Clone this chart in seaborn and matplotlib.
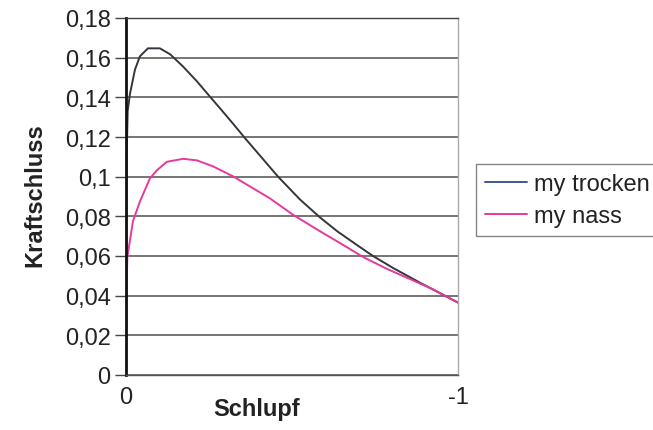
import numpy as np
import pandas as pd
import matplotlib
matplotlib.use("Agg")
import matplotlib.pyplot as plt
from matplotlib.lines import Line2D
import seaborn as sns

# ---- data ----
x_trocken = [0, -0.002, -0.005, -0.012, -0.027, -0.042, -0.066, -0.102, -0.133,
             -0.172, -0.214, -0.247, -0.283, -0.322, -0.358, -0.398, -0.458,
             -0.524, -0.584, -0.636, -0.696, -0.744, -0.804, -0.886, -1.0]
y_trocken = [0, 0.11, 0.133, 0.1418, 0.154, 0.1607, 0.1647, 0.1647, 0.1617,
             0.1555, 0.148, 0.1415, 0.1345, 0.1268, 0.1195, 0.1117, 0.100,
             0.0885, 0.0795, 0.0725, 0.0655, 0.060, 0.054, 0.0465, 0.0365]

x_nass = [0, -0.001, -0.004, -0.021, -0.042, -0.072, -0.093, -0.123, -0.172,
          -0.214, -0.262, -0.322, -0.383, -0.434, -0.503, -0.584, -0.645,
          -0.714, -0.786, -0.855, -0.925, -1.0]
y_nass = [0, 0.038, 0.0593, 0.0776, 0.0875, 0.0991, 0.1032, 0.1075, 0.1090,
          0.1082, 0.1052, 0.1002, 0.0941, 0.089, 0.0808, 0.0725, 0.0665,
          0.0595, 0.0535, 0.0484, 0.0432, 0.0365]

series_names = ["my trocken", "my nass"]
y_ticks = [0, 0.02, 0.04, 0.06, 0.08, 0.10, 0.12, 0.14, 0.16, 0.18]
x_ticks = [0, -1]
x_tick_labels = ["0", "-1"]

df = pd.concat([
    pd.DataFrame({"Schlupf": x_trocken, "Kraftschluss": y_trocken, "Reihe": series_names[0]}),
    pd.DataFrame({"Schlupf": x_nass, "Kraftschluss": y_nass, "Reihe": series_names[1]}),
], ignore_index=True)

sns.set_style("white")
plt.rcParams["font.family"] = ["Liberation Sans", "DejaVu Sans"]

W, H = 653, 431
fig = plt.figure(figsize=(W / 100, H / 100), dpi=100)
L, R, T, B = 126, 458, 19, 376
ax = fig.add_axes([L / W, 1 - B / H, (R - L) / W, (B - T) / H])

line_colors = ["#34363c", "#e6399b"]
sns.lineplot(data=df, x="Schlupf", y="Kraftschluss", hue="Reihe",
             palette=line_colors, linewidth=1.4, ax=ax, legend=False,
             estimator=None, sort=False)

ax.set_xlim(0, -1)
ax.set_ylim(0, 0.18)

def fmt(v):
    s = f"{v:.2f}".rstrip("0").rstrip(".")
    return s.replace(".", ",")

ax.set_yticks(y_ticks)
ax.set_yticklabels([fmt(v) for v in y_ticks])
ax.set_xticks(x_ticks)
ax.set_xticklabels(x_tick_labels)

ax.tick_params(axis="y", direction="out", length=8, width=1, color="#444",
               pad=3.0, labelsize=17, labelcolor="#222", left=True)
ax.tick_params(axis="x", length=0, pad=8, labelsize=17, labelcolor="#222")

ax.grid(axis="y", color="#505050", linewidth=1.1)
ax.grid(axis="x", visible=False)
ax.set_axisbelow(True)

ax.spines["left"].set_color("#111")
ax.spines["left"].set_linewidth(2)
ax.spines["bottom"].set_color("#555")
ax.spines["bottom"].set_linewidth(1)
ax.spines["top"].set_color("#444")
ax.spines["top"].set_linewidth(1)
ax.spines["right"].set_color("#aaa")
ax.spines["right"].set_linewidth(1)

ax.set_xlabel("Schlupf", fontsize=17, fontweight="bold", color="#222")
ax.set_ylabel("Kraftschluss", fontsize=17, fontweight="bold", color="#222")
ax.xaxis.set_label_coords((257 - L) / (R - L), (B - 398) / (B - T))
ax.yaxis.set_label_coords((46 - L) / (R - L), (B - 195) / (B - T))

handles = [Line2D([], [], color="#3d5a8c", linewidth=1.4),
           Line2D([], [], color="#e6399b", linewidth=1.4)]
leg = fig.legend(handles, series_names, loc="upper left",
                 bbox_to_anchor=(476 / W, 1 - 165 / H), borderaxespad=0,
                 fontsize=17, frameon=True, fancybox=False, handlelength=1.75,
                 handletextpad=0.3, labelspacing=0.4, borderpad=0.4)
leg.get_frame().set_edgecolor("#666")
leg.get_frame().set_linewidth(1)
for t in leg.get_texts():
    t.set_color("#222")

fig.savefig("out.png", dpi=100)
